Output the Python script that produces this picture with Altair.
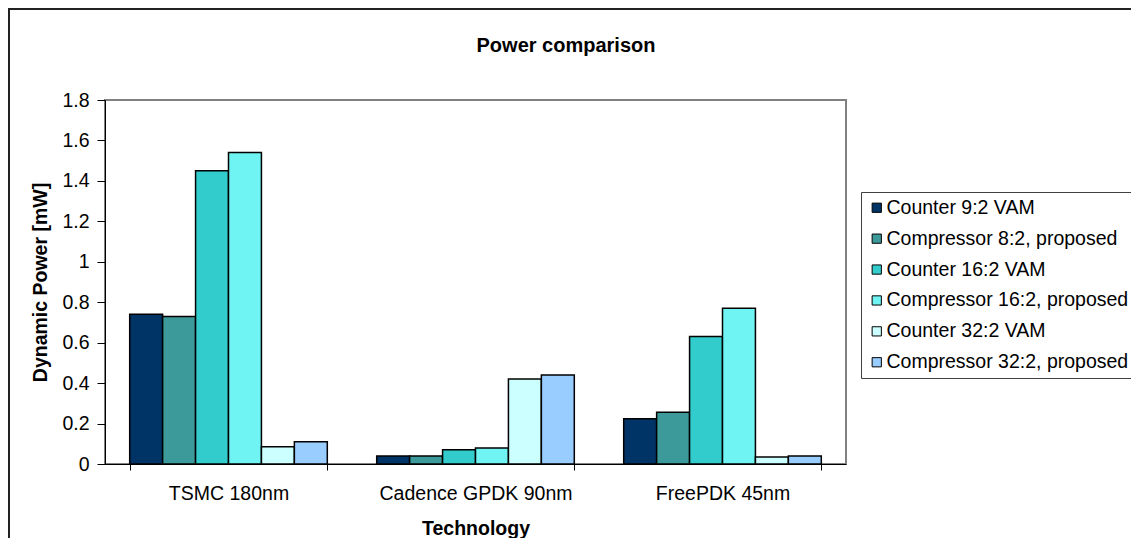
import altair as alt
import pandas as pd

technologies = ["TSMC 180nm", "Cadence GPDK 90nm", "FreePDK 45nm"]
series = [
    "Counter 9:2 VAM",
    "Compressor 8:2, proposed",
    "Counter 16:2 VAM",
    "Compressor 16:2, proposed",
    "Counter 32:2 VAM",
    "Compressor 32:2, proposed",
]
counter_9_2 = [0.74, 0.04, 0.224]
compressor_8_2 = [0.73, 0.04, 0.256]
counter_16_2 = [1.45, 0.07, 0.63]
compressor_16_2 = [1.54, 0.079, 0.77]
counter_32_2 = [0.085, 0.42, 0.035]
compressor_32_2 = [0.11, 0.44, 0.04]
series_colors = ["#003366", "#3d9a9a", "#33CCCC", "#70F3F3", "#CCFFFF", "#99CCFF"]
y_ticks = [0, 0.2, 0.4, 0.6, 0.8, 1.0, 1.2, 1.4, 1.6, 1.8]
chart_title = "Power comparison"

values = [counter_9_2, compressor_8_2, counter_16_2, compressor_16_2, counter_32_2, compressor_32_2]
rows = []
for s, vals in zip(series, values):
    for t, v in zip(technologies, vals):
        rows.append({"Technology": t, "Series": s, "Power": v})
df = pd.DataFrame(rows)

FONT = "Liberation Sans"
FS = 19.5

one = pd.DataFrame({"k": [0]})

frame = alt.Chart(one).mark_rect(
    filled=False, stroke="#222222", strokeWidth=2
).encode(
    x=alt.value(-96), x2=alt.value(3000), y=alt.value(-91), y2=alt.value(3000)
)

title_mark = alt.Chart(one).mark_text(
    text=chart_title,
    font=FONT,
    fontSize=20,
    fontWeight="bold",
    color="black",
    align="center",
    baseline="middle",
).encode(x=alt.value(461), y=alt.value(-54))

bars = alt.Chart(df).mark_bar(stroke="black", strokeWidth=1.5).encode(
    x=alt.X(
        "Technology:N",
        sort=technologies,
        scale=alt.Scale(paddingInner=0.2, paddingOuter=0.1),
        axis=alt.Axis(
            title="Technology",
            labelAngle=0,
            labelLimit=400,
            tickBand="extent",
            tickSize=6,
            labelPadding=23,
            labelBaseline="middle",
            titleX=370.5,
            titleY=64,
            titleBaseline="middle",
            titleAlign="center",
        ),
    ),
    xOffset=alt.XOffset(
        "Series:N", sort=series, scale=alt.Scale(paddingInner=0, paddingOuter=0)
    ),
    y=alt.Y(
        "Power:Q",
        scale=alt.Scale(domain=[0, 1.8], nice=False),
        axis=alt.Axis(
            title="Dynamic Power [mW]",
            values=y_ticks,
            format=".1~f",
            grid=False,
            tickSize=8,
            labelPadding=8,
            titleX=-65,
            titleY=182,
            titleAngle=-90,
            titleBaseline="middle",
            titleAlign="center",
        ),
    ),
    color=alt.Color(
        "Series:N",
        sort=series,
        scale=alt.Scale(domain=series, range=series_colors),
        legend=alt.Legend(
            title=None,
            orient="none",
            legendX=756,
            legendY=92,
            padding=6,
            rowPadding=9.9,
            strokeColor="#404040",
            fillColor="white",
            symbolType="square",
            symbolSize=85,
            symbolStrokeColor="black",
            symbolStrokeWidth=1,
            labelFont=FONT,
            labelFontSize=FS,
            labelColor="black",
            labelLimit=500,
            labelOffset=0,
        ),
    ),
)

chart = alt.layer(frame, title_mark, bars).properties(
    width=741,
    height=364,
    autosize=alt.AutoSizeParams(type="none"),
    padding={"left": 97, "top": 92, "right": 285, "bottom": 74},
).configure_view(
    stroke="#808080", strokeWidth=2
).configure_axis(
    domainColor="black",
    domainWidth=1,
    tickColor="black",
    labelColor="black",
    labelFont=FONT,
    labelFontSize=FS,
    titleFont=FONT,
    titleFontSize=FS,
    titleFontWeight="bold",
    titleColor="black",
)

chart.save("out.html", embed_options={"renderer": "svg", "actions": False})
